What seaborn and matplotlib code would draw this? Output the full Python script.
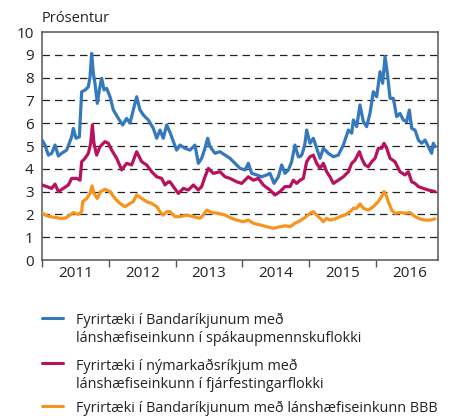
import numpy as np
import pandas as pd
import matplotlib
matplotlib.use("Agg")
import matplotlib.pyplot as plt
from matplotlib.lines import Line2D
import seaborn as sns

# ---------------- data (decimal year, percent) ----------------
blue_x = [2011.00, 2011.045, 2011.095, 2011.145, 2011.195, 2011.245, 2011.294, 2011.369, 2011.444, 2011.469,
          2011.509, 2011.559, 2011.594, 2011.644, 2011.694, 2011.719, 2011.744, 2011.768, 2011.793, 2011.828,
          2011.858, 2011.893, 2011.928, 2011.968, 2012.018, 2012.068, 2012.143, 2012.208, 2012.267, 2012.317,
          2012.367, 2012.417, 2012.467, 2012.517, 2012.592, 2012.667, 2012.717, 2012.766, 2012.816, 2012.866,
          2012.916, 2012.966, 2013.016, 2013.066, 2013.141, 2013.216, 2013.290, 2013.340, 2013.390, 2013.440,
          2013.480, 2013.515, 2013.590, 2013.665, 2013.740, 2013.814, 2013.889, 2013.964, 2014.039, 2014.089,
          2014.139, 2014.214, 2014.288, 2014.363, 2014.413, 2014.473, 2014.538, 2014.588, 2014.638, 2014.688,
          2014.737, 2014.787, 2014.837, 2014.862, 2014.887, 2014.912, 2014.937, 2014.962, 2015.012, 2015.062,
          2015.112, 2015.162, 2015.212, 2015.286, 2015.361, 2015.436, 2015.511, 2015.586, 2015.636, 2015.661,
          2015.711, 2015.760, 2015.810, 2015.860, 2015.910, 2015.960, 2016.010, 2016.060, 2016.100, 2016.135,
          2016.170, 2016.210, 2016.259, 2016.309, 2016.359, 2016.409, 2016.459, 2016.499, 2016.534, 2016.584,
          2016.634, 2016.684, 2016.734, 2016.783, 2016.833, 2016.858, 2016.883]
blue_y = [5.26, 5.04, 4.60, 4.68, 5.04, 4.56, 4.68, 4.82, 5.40, 5.77,
          5.34, 5.40, 7.38, 7.45, 7.60, 8.04, 9.06, 8.19, 7.75, 6.87,
          7.46, 7.97, 7.46, 7.53, 7.16, 6.58, 6.21, 5.92, 6.21, 6.00,
          6.58, 7.16, 6.58, 6.36, 6.14, 5.77, 5.34, 5.70, 5.34, 5.92,
          5.60, 5.20, 4.82, 5.04, 4.90, 4.82, 5.04, 4.24, 4.46, 4.90,
          5.34, 4.97, 4.68, 4.75, 4.60, 4.46, 4.24, 4.02, 3.95, 4.24,
          3.80, 3.73, 3.65, 3.73, 3.80, 3.36, 3.65, 4.17, 3.80, 3.95,
          4.31, 5.04, 4.53, 4.53, 4.60, 4.82, 5.12, 5.70, 5.12, 5.34,
          4.90, 4.46, 4.90, 4.68, 4.53, 4.60, 5.04, 5.70, 5.56, 6.14,
          5.85, 6.80, 6.07, 5.85, 6.43, 7.38, 7.16, 8.26, 7.75, 8.92,
          8.19, 7.09, 7.09, 6.29, 6.43, 6.14, 6.07, 6.58, 5.77, 5.70,
          5.26, 5.12, 5.26, 4.97, 4.68, 5.12, 4.97]

magenta_x = [2011.00, 2011.070, 2011.145, 2011.195, 2011.245, 2011.319, 2011.394, 2011.444, 2011.519, 2011.569,
             2011.594, 2011.644, 2011.694, 2011.729, 2011.754, 2011.778, 2011.818, 2011.868, 2011.943, 2011.993,
             2012.043, 2012.118, 2012.193, 2012.267, 2012.342, 2012.417, 2012.492, 2012.567, 2012.642, 2012.717,
             2012.791, 2012.841, 2012.891, 2012.916, 2012.966, 2013.041, 2013.116, 2013.191, 2013.266, 2013.340,
             2013.390, 2013.440, 2013.490, 2013.565, 2013.665, 2013.740, 2013.814, 2013.914, 2013.989, 2014.089,
             2014.164, 2014.239, 2014.313, 2014.413, 2014.488, 2014.563, 2014.638, 2014.713, 2014.762, 2014.812,
             2014.862, 2014.912, 2014.937, 2014.962, 2015.012, 2015.062, 2015.112, 2015.162, 2015.212, 2015.261,
             2015.311, 2015.361, 2015.436, 2015.511, 2015.586, 2015.636, 2015.686, 2015.751, 2015.785, 2015.835,
             2015.885, 2015.935, 2015.985, 2016.035, 2016.085, 2016.120, 2016.160, 2016.210, 2016.284, 2016.359,
             2016.434, 2016.484, 2016.534, 2016.584, 2016.634, 2016.709, 2016.783, 2016.883]
magenta_y = [3.29, 3.22, 3.14, 3.33, 3.00, 3.14, 3.29, 3.58, 3.58, 3.50,
             4.31, 4.46, 4.68, 5.12, 5.92, 5.12, 4.60, 4.97, 5.19, 5.12,
             4.82, 4.46, 3.95, 4.24, 4.17, 4.75, 4.31, 4.17, 3.87, 3.65,
             3.58, 3.29, 3.43, 3.43, 3.22, 2.92, 3.14, 3.07, 3.29, 3.07,
             3.22, 3.65, 4.02, 3.80, 3.87, 3.65, 3.58, 3.43, 3.36, 3.65,
             3.50, 3.58, 3.29, 3.07, 2.85, 3.00, 3.22, 3.22, 3.50, 3.36,
             3.50, 3.58, 3.95, 4.31, 4.53, 4.60, 4.24, 4.02, 4.24, 3.87,
             3.65, 3.36, 3.50, 3.65, 3.87, 4.24, 4.38, 4.75, 4.46, 4.17,
             4.09, 4.31, 4.46, 4.90, 4.90, 5.12, 4.90, 4.46, 4.31, 3.87,
             3.73, 3.87, 3.43, 3.36, 3.22, 3.14, 3.07, 3.00]

orange_x = [2011.00, 2011.045, 2011.120, 2011.195, 2011.269, 2011.344, 2011.419, 2011.469, 2011.544, 2011.594,
            2011.609, 2011.669, 2011.719, 2011.749, 2011.778, 2011.828, 2011.878, 2011.943, 2012.018, 2012.093,
            2012.168, 2012.243, 2012.317, 2012.367, 2012.417, 2012.492, 2012.567, 2012.642, 2012.717, 2012.766,
            2012.816, 2012.866, 2012.916, 2012.966, 2012.991, 2013.066, 2013.166, 2013.266, 2013.365, 2013.415,
            2013.465, 2013.540, 2013.640, 2013.740, 2013.839, 2013.914, 2014.014, 2014.089, 2014.164, 2014.263,
            2014.363, 2014.463, 2014.563, 2014.638, 2014.713, 2014.787, 2014.862, 2014.937, 2015.012, 2015.062,
            2015.112, 2015.162, 2015.212, 2015.261, 2015.311, 2015.386, 2015.461, 2015.536, 2015.611, 2015.661,
            2015.711, 2015.760, 2015.810, 2015.885, 2015.960, 2016.035, 2016.085, 2016.120, 2016.150, 2016.185,
            2016.234, 2016.284, 2016.359, 2016.434, 2016.509, 2016.584, 2016.659, 2016.734, 2016.808, 2016.883]
orange_y = [2.08, 1.97, 1.90, 1.87, 1.83, 1.83, 1.97, 2.08, 2.00, 2.12,
            2.56, 2.70, 2.92, 3.25, 2.92, 2.70, 3.00, 3.10, 3.00, 2.70,
            2.48, 2.34, 2.48, 2.56, 2.85, 2.70, 2.56, 2.48, 2.34, 2.12,
            1.97, 2.12, 2.12, 1.97, 1.90, 1.90, 1.97, 1.90, 1.83, 1.97,
            2.19, 2.08, 2.05, 1.97, 1.83, 1.75, 1.68, 1.75, 1.61, 1.54,
            1.46, 1.39, 1.46, 1.50, 1.46, 1.61, 1.72, 1.86, 2.05, 2.12,
            1.97, 1.83, 1.68, 1.83, 1.75, 1.80, 1.90, 1.97, 2.12, 2.27,
            2.27, 2.46, 2.27, 2.19, 2.34, 2.56, 2.78, 3.00, 2.85, 2.56,
            2.19, 2.05, 2.08, 2.05, 2.08, 1.90, 1.80, 1.75, 1.75, 1.80]

series_labels = [
    "Fyrirtæki í Bandaríkjunum með\nlánshæfiseinkunn í spákaupmennskuflokki",
    "Fyrirtæki í nýmarkaðsríkjum með\nlánshæfiseinkunn í fjárfestingarflokki",
    "Fyrirtæki í Bandaríkjunum með lánshæfiseinkunn BBB",
]
colors = ["#3478be", "#b8125e", "#f7941d"]
year_ticks = [2011, 2012, 2013, 2014, 2015, 2016]
year_labels = ["2011", "2012", "2013", "2014", "2015", "2016"]
y_ticks = list(range(0, 11))
y_label = "Prósentur"

# ---------------- long-form table ----------------
df = pd.concat([
    pd.DataFrame({"x": blue_x, "y": blue_y, "s": series_labels[0]}),
    pd.DataFrame({"x": magenta_x, "y": magenta_y, "s": series_labels[1]}),
    pd.DataFrame({"x": orange_x, "y": orange_y, "s": series_labels[2]}),
], ignore_index=True)

sns.set_theme(style="white")
plt.rcParams["font.family"] = ["Open Sans", "DejaVu Sans"]

W, H = 451, 416
fig = plt.figure(figsize=(W / 100, H / 100), dpi=100)
ax = fig.add_axes([42 / W, 1 - 260 / H, (438 - 42) / W, (260 - 32) / H])

# grid lines
for v in y_ticks[1:-1]:
    ax.axhline(v, color="#222222", lw=0.9, dashes=(6, 4), zorder=1)

sns.lineplot(data=df, x="x", y="y", hue="s", palette=colors, hue_order=series_labels,
             linewidth=2.3, legend=False, sort=False, estimator=None, ax=ax, zorder=3)

ax.set_xlim(2011.0, 2016.928)
ax.set_ylim(0, 10)
ax.set_xlabel("")
ax.set_ylabel("")
ax.set_yticks(y_ticks)
ax.set_yticklabels([str(t) for t in y_ticks], fontsize=11, color="#222222")
ax.tick_params(axis="y", length=0, pad=6)

ax.set_xticks(year_ticks)
ax.set_xticklabels([])
ax.set_xticks([t + 0.5 for t in year_ticks], minor=True)
ax.set_xticklabels(year_labels, minor=True, fontsize=11, color="#222222")
ax.tick_params(axis="x", which="major", direction="out", length=5, width=1, color="#555555", bottom=True)
ax.tick_params(axis="x", which="minor", length=0, pad=4)

for sp in ax.spines.values():
    sp.set_visible(True)
    sp.set_color("#555555")
    sp.set_linewidth(1.1)

fig.text(42 / W, 1 - 22.5 / H, y_label, fontsize=10.5, color="#222222", va="baseline", ha="left")

# legend drawn below the axes
legend_line_y = [317.7, 363.3, 405.5]
for lab, c, ly in zip(series_labels, colors, legend_line_y):
    fig.add_artist(Line2D([42 / W, 63 / W], [1 - ly / H, 1 - ly / H], color=c, lw=2.2,
                          transform=fig.transFigure))
    for i, part in enumerate(lab.split("\n")):
        fig.text(76 / W, 1 - (ly + 6.8 + i * 18) / H, part, fontsize=10.4, color="#222222",
                 va="baseline", ha="left")

fig.savefig("out.png", dpi=100)
